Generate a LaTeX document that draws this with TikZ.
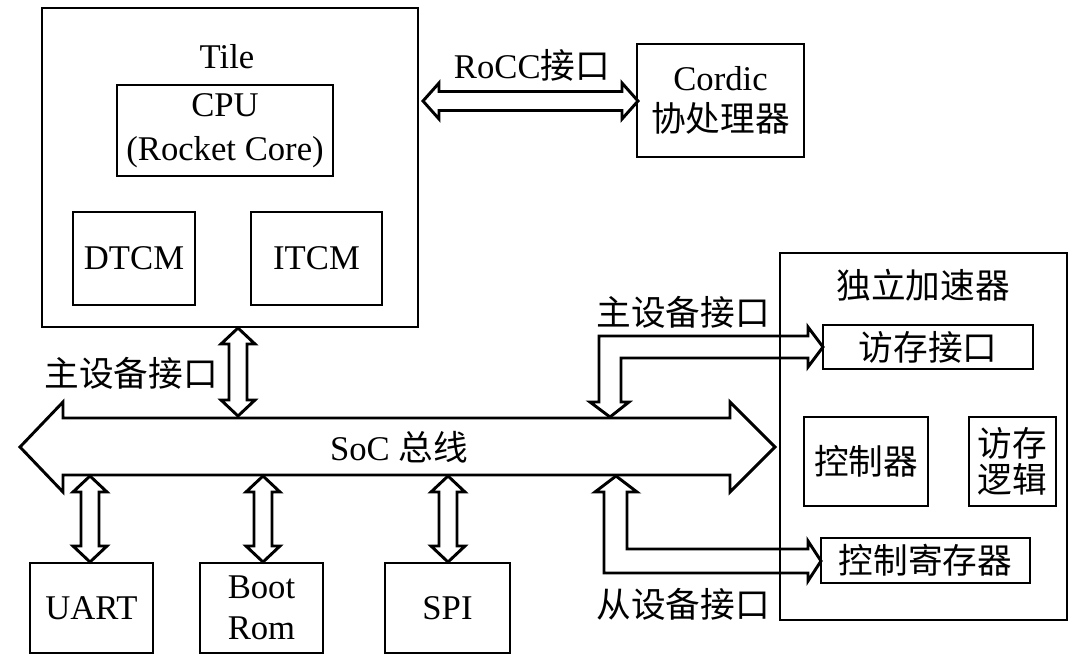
\documentclass[tikz,border=0pt]{standalone}
\usepackage{fontspec}
\setmainfont{Liberation Serif}
\newfontfamily\cjk{Noto Sans CJK SC}
\newcommand\vdarrow[3]{\draw[blk] (#1,#2) -- ({#1+17},{#2+16}) -- ({#1+9},{#2+16}) -- ({#1+9},{#3-16}) -- ({#1+17},{#3-16}) -- (#1,#3) -- ({#1-17},{#3-16}) -- ({#1-9},{#3-16}) -- ({#1-9},{#2+16}) -- ({#1-17},{#2+16}) -- cycle;}
\newcommand\hdarrow[3]{\draw[blk] (#2,#1) -- ({#2+16},{#1-18}) -- ({#2+16},{#1-9.5}) -- ({#3-16},{#1-9.5}) -- ({#3-16},{#1-18}) -- (#3,#1) -- ({#3-16},{#1+18}) -- ({#3-16},{#1+9.5}) -- ({#2+16},{#1+9.5}) -- ({#2+16},{#1+18}) -- cycle;}
\begin{document}
\begin{tikzpicture}[x=0.75pt,y=-0.75pt,line width=2.2pt,
  box/.style={draw,inner sep=0pt,align=center,font=\fontsize{26}{33}\selectfont},
  lbl/.style={inner sep=0pt,align=center,font=\fontsize{26}{33}\selectfont},
  blk/.style={draw,fill=white,line width=2.2pt,line join=miter}]
\useasboundingbox (0,0) rectangle (1080,664);

% Tile
\node[box,minimum width=376*0.75pt,minimum height=319*0.75pt] (tile) at (230,167.5) {};
\node[lbl] (tilelbl) at (227,57) {Tile};
\node[box,minimum width=216*0.75pt,minimum height=91*0.75pt] (cpu) at (225,130.5) {CPU\\(Rocket Core)};
\node[box,minimum width=122*0.75pt,minimum height=93*0.75pt] (dtcm) at (134,258.5) {DTCM};
\node[box,minimum width=131*0.75pt,minimum height=93*0.75pt] (itcm) at (316.5,258.5) {ITCM};

% Cordic
\node[box,minimum width=167*0.75pt,minimum height=113*0.75pt] (cordic) at (720.5,100.5) {Cordic\\[-2pt]{\cjk 协处理器}};
\node[lbl] (rocc) at (532,65) {RoCC{\cjk 接口}};
\hdarrow{101}{423}{638}

% bus
\draw[blk] (20,447) -- (63,402) -- (63,418) -- (730,418) -- (730,402) -- (775,447) -- (730,492) -- (730,475) -- (63,475) -- (63,492) -- cycle;
\node[lbl] (bus) at (399,447) {SoC {\cjk 总线}};

% tile to bus
\vdarrow{238}{328}{416}
\node[lbl] (m1) at (131,373) {\cjk 主设备接口};

% peripherals
\node[box,minimum width=123*0.75pt,minimum height=90*0.75pt] (uart) at (91.5,608) {UART};
\node[box,minimum width=123*0.75pt,minimum height=90*0.75pt] (boot) at (261.5,608) {Boot\\[-2pt]Rom};
\node[box,minimum width=125*0.75pt,minimum height=90*0.75pt] (spi) at (447.5,608) {SPI};
\vdarrow{90}{476}{562}
\vdarrow{263}{476}{562}
\vdarrow{448}{476}{562}

% master L arrow
\draw[blk] (610,417) -- (629,402) -- (621,402) -- (621,358) -- (808,358) -- (808,367) -- (823,347) -- (808,327) -- (808,336) -- (599,336) -- (599,402) -- (590,402) -- cycle;
\node[lbl] (m2) at (683,312) {\cjk 主设备接口};

% slave L arrow
\draw[blk] (616,476) -- (637,492) -- (627,492) -- (627,549) -- (808,549) -- (808,541) -- (821,561) -- (808,581) -- (808,573) -- (604,573) -- (604,492) -- (595,492) -- cycle;
\node[lbl] (s1) at (683,604) {\cjk 从设备接口};

% accelerator
\node[box,minimum width=287*0.75pt,minimum height=367*0.75pt] (acc) at (923.5,436.5) {};
\node[lbl] (acclbl) at (923,285) {\cjk 独立加速器};
\node[box,minimum width=210*0.75pt,minimum height=44*0.75pt] (mem) at (928,347) {\cjk 访存接口};
\node[box,minimum width=124*0.75pt,minimum height=89*0.75pt] (ctrl) at (866,461.5) {\cjk 控制器};
\node[box,minimum width=87*0.75pt,minimum height=89*0.75pt] (logic) at (1012.5,461.5) {\cjk 访存\\[-6pt]\cjk 逻辑};
\node[box,minimum width=209*0.75pt,minimum height=45*0.75pt] (creg) at (925.5,560.5) {\cjk 控制寄存器};
\end{tikzpicture}
\end{document}
